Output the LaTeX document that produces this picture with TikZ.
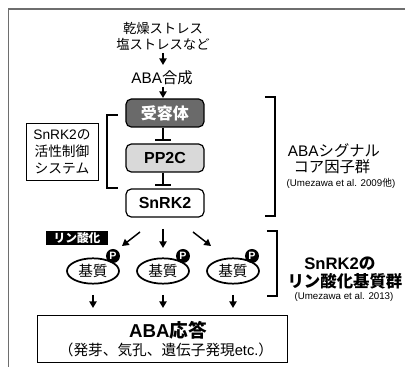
\documentclass[tikz,border=0pt]{standalone}
\usepackage{fontspec}
\setmainfont{Noto Sans CJK JP}
\newfontfamily\lat{Liberation Sans}
\usetikzlibrary{arrows.meta,shapes.geometric}
\definecolor{framegray}{HTML}{6E6E6E}
\definecolor{darkbox}{HTML}{6A6A6A}
\definecolor{lightbox}{HTML}{D9D9D9}
\tikzset{
  corebox/.style={draw=black, line width=0.9pt, rounded corners=4pt, minimum width=58.5pt, minimum height=21pt, inner sep=0pt, font=\fontsize{12}{14}\selectfont\bfseries},
  plain/.style={inner sep=0pt, font=\fontsize{10}{12}\selectfont},
  arr/.style={line width=1.1pt, -{Triangle[length=5pt,width=5.5pt]}},
  inh/.style={line width=1.1pt, -{Bar[width=12pt,line width=1.5pt]}, shorten >=1.5pt},
  substr/.style={draw=black, ellipse, line width=1.3pt, minimum width=39pt, minimum height=19pt, inner sep=0pt, font=\fontsize{11}{12}\selectfont},
  pdot/.style={circle, fill=black, minimum size=10.5pt, inner sep=0pt, text=white, font=\lat\fontsize{8}{8}\selectfont\bfseries},
  brk/.style={line width=0.9pt},
  brkbold/.style={line width=1.9pt},
}
\begin{document}
\begin{tikzpicture}[x=0.75pt,y=-0.75pt]
\useasboundingbox (0,0) rectangle (405,367);
% outer frame
\draw[framegray, line width=1.1pt] (8.5,367) -- (8.5,9) -- (405,9);

% top texts
\node[plain] (dry) at (163,28) {乾燥ストレス};
\node[plain] (salt) at (163,44) {塩ストレスなど};
\node[plain, font=\fontsize{11.5}{13}\selectfont] (aba) at (162,78) {{\lat ABA}合成};

% core boxes
\node[corebox, fill=darkbox, text=white] (rec) at (165,113) {受容体};
\node[corebox, fill=lightbox] (pp2c) at (165,158) {\lat PP2C};
\node[corebox, fill=white] (snrk) at (165,203) {\lat SnRK2};

\coordinate (a1s) at (163,53); \coordinate (a1e) at (163,65);
\coordinate (a2s) at (163,87); \coordinate (a2e) at (163,98);
\draw[arr] (a1s) -- (a1e);
\draw[arr] (a2s) -- (a2e);
\draw[inh] (rec.south -| 163,0) -- (pp2c.north -| 163,0);
\draw[inh] (pp2c.south -| 163,0) -- (snrk.north -| 163,0);

% left control box and bracket
\node[draw=black, line width=0.6pt, minimum width=54pt, minimum height=42.75pt, inner sep=0pt, align=center, font=\fontsize{10.3}{12.75}\selectfont] (ctrl) at (62,151.5) {{\lat SnRK2}の\\活性制御\\システム};
\draw[brk] (118,115) -- (107,115) -- (107,188) -- (118,188);

% right bracket (core)
\draw[brk] (265,97) -- (275,97) -- (275,216) -- (265,216);
\node[plain, font=\fontsize{11.5}{13}\selectfont] (core1) at (334,151) {{\lat ABA}シグナル};
\node[plain, font=\fontsize{11.5}{13}\selectfont] (core2) at (332,167) {コア因子群};
\node[plain, font=\fontsize{7.3}{8}\selectfont] (ref1) at (341,183) {{\lat (Umezawa et al. 2009}他{\lat )}};

% phosphorylation label
\node[fill=black, text=white, minimum width=46.5pt, minimum height=11pt, inner sep=0pt, font=\fontsize{8.8}{9}\selectfont\bfseries] (phos) at (77,238) {リン酸化};

% substrates
\node[substr] (s1) at (93,271) {基質};
\node[substr] (s2) at (163,271) {基質};
\node[substr] (s3) at (233,271) {基質};
\node[pdot] (p1) at (113,256) {P};
\node[pdot] (p2) at (183,256) {P};
\node[pdot] (p3) at (252,256) {P};

\coordinate (d1s) at (140,232); \coordinate (d1e) at (122,246);
\coordinate (d2s) at (163,229); \coordinate (d2e) at (163,248);
\coordinate (d3s) at (193,232); \coordinate (d3e) at (211,246);
\draw[arr] (d1s) -- (d1e);
\draw[arr] (d2s) -- (d2e);
\draw[arr] (d3s) -- (d3e);

% lower bracket
\draw[brkbold] (267,231) -- (277,231) -- (277,296) -- (267,296);
\node[plain, font=\fontsize{12.5}{14}\selectfont\bfseries] (sub1) at (340,264) {{\lat SnRK2}の};
\node[plain, font=\fontsize{12.3}{14}\selectfont\bfseries] (sub2) at (345,281) {リン酸化基質群};
\node[plain, font=\fontsize{7.3}{8}\selectfont] (ref2) at (344,297) {\lat (Umezawa et al. 2013)};

% response box
\node[draw=black, line width=0.9pt, minimum width=187.5pt, minimum height=35pt, inner sep=0pt] (resp) at (162.5,339) {};
\node[plain, font=\fontsize{14}{16}\selectfont\bfseries] (resp1) at (168,330) {{\lat ABA}応答};
\node[plain, font=\fontsize{11}{12}\selectfont] (resp2) at (166,350) {（発芽、気孔、遺伝子発現{\lat etc.}）};

\coordinate (b1s) at (93,295); \coordinate (b1e) at (93,308);
\coordinate (b2s) at (163,295); \coordinate (b2e) at (163,308);
\coordinate (b3s) at (233,295); \coordinate (b3e) at (233,308);
\draw[arr] (b1s) -- (b1e);
\draw[arr] (b2s) -- (b2e);
\draw[arr] (b3s) -- (b3e);
\end{tikzpicture}
\end{document}
